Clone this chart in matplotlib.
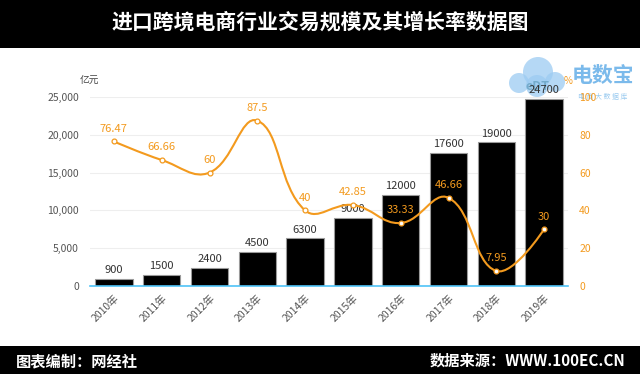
import numpy as np
import matplotlib
matplotlib.use('Agg')
from matplotlib import pyplot as plt
from matplotlib.path import Path
from matplotlib.patches import PathPatch, Rectangle, Ellipse

plt.rcParams['font.family'] = ['Noto Sans CJK SC', 'DejaVu Sans']

years = ['2010年', '2011年', '2012年', '2013年', '2014年',
         '2015年', '2016年', '2017年', '2018年', '2019年']
scale = [900, 1500, 2400, 4500, 6300, 9000, 12000, 17600, 19000, 24700]
growth = [76.47, 66.66, 60, 87.5, 40, 42.85, 33.33, 46.66, 7.95, 30]
growth_labels = ['76.47', '66.66', '60', '87.5', '40', '42.85', '33.33', '46.66', '7.95', '30']

orange = '#f39a1e'

fig = plt.figure(figsize=(6.4, 3.74), dpi=100)
fig.patch.set_facecolor('white')

# title and footer bands
fig.patches.append(Rectangle((0, 1 - 48 / 374), 1, 48 / 374, transform=fig.transFigure,
                             facecolor='black', edgecolor='none', zorder=-2))
fig.patches.append(Rectangle((0, 0), 1, 28 / 374, transform=fig.transFigure,
                             facecolor='black', edgecolor='none', zorder=-2))
fig.text(0.5, 1 - 22 / 374, '进口跨境电商行业交易规模及其增长率数据图', color='white',
         fontsize=15, fontweight='bold', ha='center', va='center')
fig.text(0.025, 13 / 374, '图表编制：网经社', color='white', fontsize=11,
         fontweight='bold', ha='left', va='center')
fig.text(0.978, 13 / 374, '数据来源：WWW.100EC.CN', color='white', fontsize=11,
         fontweight='bold', ha='right', va='center')

# watermark logo (cloud), drawn behind the axes
logo_blue = '#9ccbf2'
for cx, cy, r in [(538, 72, 15), (519, 83, 10), (555, 82, 10), (537, 86, 11)]:
    fig.patches.append(Ellipse((cx / 640, 1 - cy / 374), 2 * r / 640, 2 * r / 374,
                               transform=fig.transFigure, facecolor=logo_blue,
                               edgecolor='none', alpha=0.75, zorder=-1))
fig.text(537 / 640, 1 - 86 / 374, 'eDT', fontsize=9, fontweight='bold', color='#6fa8c8',
         ha='center', va='center', alpha=0.9, zorder=-1)

ax = fig.add_axes([90 / 640, 1 - 286 / 374, 478 / 640, 189 / 374])
ax.patch.set_alpha(0)
x = np.arange(len(years))

ax.bar(x, scale, width=0.78, color='black', edgecolor='#9a9a9a', linewidth=0.8, zorder=2)
for xi, v in zip(x, scale):
    ax.text(xi, v + 500, str(v), ha='center', va='bottom', fontsize=8, color='#333333', zorder=5)

ax.set_xlim(-0.5, len(years) - 0.5)
ax.set_ylim(0, 25000)
ax.set_yticks(range(0, 25001, 5000))
ax.set_yticklabels(['0', '5,000', '10,000', '15,000', '20,000', '25,000'])
ax.tick_params(axis='y', length=0, labelsize=7.5, labelcolor='#555555', pad=8)
ax.set_xticks(x)
ax.set_xticklabels(years, rotation=45, ha='right', rotation_mode='anchor')
ax.tick_params(axis='x', length=0, labelsize=7.5, labelcolor='#555555', pad=5)
ax.grid(axis='y', color='#eeeeee', linewidth=0.8, zorder=0)
for s in ['top', 'right', 'left']:
    ax.spines[s].set_visible(False)
ax.spines['bottom'].set_color('#4fc3f7')
ax.spines['bottom'].set_linewidth(1.2)
ax.spines['bottom'].set_zorder(6)
ax.set_axisbelow(True)

ax2 = ax.twinx()
ax2.set_ylim(0, 100)
ax2.set_yticks(range(0, 101, 20))
ax2.tick_params(axis='y', length=0, labelsize=7.5, labelcolor=orange, pad=8)
for s in ax2.spines.values():
    s.set_visible(False)

# smooth curve (echarts-like bezier) computed in pixel-like space
px = 47.8
py = 1.89
smooth = 0.42
P = np.column_stack([x * px, np.array(growth) * py])
cps = []
n = len(P)
for i in range(n):
    if i == 0 or i == n - 1:
        cps.append(P[i].copy())
        cps.append(P[i].copy())
        continue
    v = (P[i + 1] - P[i - 1]) * smooth
    d0 = np.linalg.norm(P[i] - P[i - 1])
    d1 = np.linalg.norm(P[i + 1] - P[i])
    tot = d0 + d1
    cps.append(P[i] - v * d0 / tot)
    cps.append(P[i] + v * d1 / tot)
verts = [P[0]]
codes = [Path.MOVETO]
for i in range(n - 1):
    verts += [cps[2 * i + 1], cps[2 * (i + 1)], P[i + 1]]
    codes += [Path.CURVE4] * 3
verts = np.array(verts)
verts[:, 0] /= px
verts[:, 1] /= py
ax2.add_patch(PathPatch(Path(verts, codes), facecolor='none', edgecolor=orange,
                        linewidth=1.5, zorder=3))
ax2.plot(x, growth, linestyle='none', marker='o', markersize=3.5,
         markerfacecolor='white', markeredgecolor=orange, markeredgewidth=0.9, zorder=4)
for xi, v, lab in zip(x, growth, growth_labels):
    ax2.text(xi, v + 4, lab, ha='center', va='bottom', fontsize=8, color=orange, zorder=5)

fig.text(80 / 640, 1 - 81 / 374, '亿元', fontsize=7, color='#444444', ha='left', va='center')
fig.text(564 / 640, 1 - 81 / 374, '%', fontsize=7, color=orange, ha='left', va='center')

# watermark text
fig.text(603 / 640, 1 - 76 / 374, '电数宝', fontsize=15, fontweight='bold',
         color='#5aa9e6', alpha=0.8, ha='center', va='center', zorder=-1)
fig.text(603 / 640, 1 - 97 / 374, '电 商 大 数 据 库', fontsize=5,
         color='#5aa9e6', alpha=0.6, ha='center', va='center', zorder=-1)

fig.savefig('out.png', dpi=100)
